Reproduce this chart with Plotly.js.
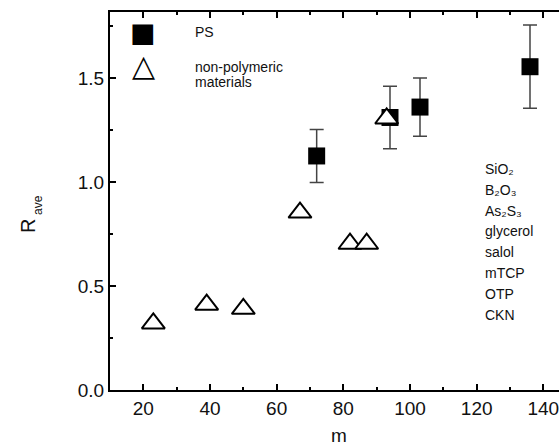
<!DOCTYPE html>
<html>
<head>
<meta charset="utf-8">
<script src="https://cdn.plot.ly/plotly-3.0.1.min.js"></script>
<style>html,body{margin:0;padding:0;background:#fff;}#chart{width:559px;height:444px;}</style>
</head>
<body>
<div id="chart"></div>
<script>
// PS (polymer) data with error bars
const psM = [72, 94, 103, 136];
const psR = [1.125, 1.31, 1.36, 1.554];
const psErr = [0.127, 0.15, 0.14, 0.2];

// non-polymeric materials
const npM = [23, 39, 50, 67, 82, 87, 93];
const npR = [0.32, 0.41, 0.39, 0.853, 0.703, 0.703, 1.305];

// material labels
const materials = ['SiO\u2082', 'B\u2082O\u2083', 'As\u2082S\u2083',
  'glycerol', 'salol', 'mTCP', 'OTP', 'CKN'];

// legend entries
const legendSymbols = ['\u25A0', '\u25B3'];
const legendLabels = [['PS'], ['non-polymeric', 'materials']];

// axis ticks
const xTicks = [20, 40, 60, 80, 100, 120, 140];
const yTicks = [0, 0.5, 1.0, 1.5];

const W = 559, H = 444;
const margin = {l: 110, r: 0, t: 12, b: 54};
const plotW = W - margin.l - margin.r;
const plotH = H - margin.t - margin.b;
const fontFam = 'Liberation Sans, Arial, sans-serif';
const px = x => (x - margin.l) / plotW;
const py = y => 1 - (y - margin.t) / plotH;

const traces = [
  {
    x: psM, y: psR, type: 'scatter', mode: 'markers', name: 'PS',
    marker: {symbol: 'square', size: 17, color: '#000'},
    error_y: {type: 'data', array: psErr, visible: true, color: '#444', thickness: 1.5, width: 7}
  },
  {
    x: npM, y: npR, type: 'scatter', mode: 'markers', name: 'non-polymeric materials',
    marker: {symbol: 'triangle-up', size: 20, color: '#fff', line: {color: '#000', width: 2}}
  }
];

const txt = (text, x, y, size, extra) => Object.assign({
  text: text, xref: 'paper', yref: 'paper', x: px(x), y: py(y),
  xanchor: 'left', yanchor: 'middle', showarrow: false,
  font: {family: fontFam, size: size, color: '#111'}
}, extra || {});

const annotations = [];
materials.forEach((t, i) => annotations.push(txt(t, 483, 169 + i * 20.8, 14)));
// legend
const legendY = [32, 67];
legendSymbols.forEach((s, i) => annotations.push(txt(s, 143, legendY[i] + (i ? -1 : 0), i ? 30 : 27,
  {xanchor: 'center', font: {family: 'DejaVu Sans', size: i ? 30 : 27, color: '#000'}})));
legendLabels.forEach((lines, i) => lines.forEach((l, j) =>
  annotations.push(txt(l, 193, legendY[i] + j * 15, 14))));
// axis titles
annotations.push(txt('m', 339, 435, 19, {xanchor: 'center'}));
annotations.push(txt('R', 28, 226, 20, {xanchor: 'center', textangle: -90}));
annotations.push(txt('ave', 38, 205, 12, {xanchor: 'center', textangle: -90}));

const layout = {
  width: W, height: H, margin: margin,
  showlegend: false,
  xaxis: {
    range: [10, 144.7], showgrid: false, zeroline: false,
    showline: true, linecolor: '#000', linewidth: 2, mirror: 'allticks',
    ticks: 'inside', ticklen: 6, tickwidth: 2, tickcolor: '#000',
    tickvals: xTicks, ticklabeloverflow: 'allow',
    minor: {dtick: 10, tick0: 0, ticks: 'inside', ticklen: 3, tickwidth: 2, tickcolor: '#000'},
    tickfont: {size: 19, family: fontFam, color: '#111'}
  },
  yaxis: {
    range: [0, 1.817], showgrid: false, zeroline: false,
    showline: true, linecolor: '#000', linewidth: 2,
    ticks: 'inside', ticklen: 6, tickwidth: 2, tickcolor: '#000',
    tickvals: yTicks, tickformat: '.1f',
    minor: {dtick: 0.25, tick0: 0, ticks: 'inside', ticklen: 3, tickwidth: 2, tickcolor: '#000'},
    tickfont: {size: 19, family: fontFam, color: '#111'}
  },
  shapes: [{type: 'line', xref: 'paper', yref: 'paper', x0: 0, x1: 1, y0: 1 + 1 / plotH, y1: 1 + 1 / plotH,
    line: {color: '#000', width: 2}}],
  annotations: annotations
};

Plotly.newPlot('chart', traces, layout, {staticPlot: true});
</script>
</body>
</html>
